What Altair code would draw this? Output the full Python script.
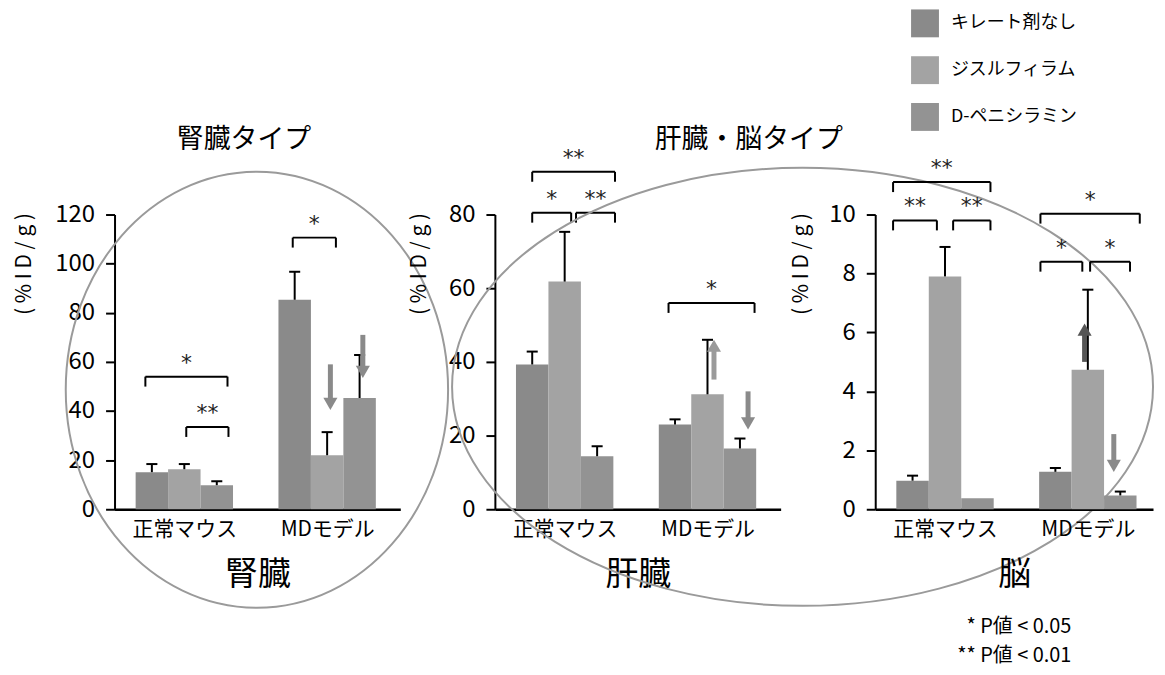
import altair as alt
import pandas as pd

FONT = "Noto Sans CJK JP"

# ---------------- data ----------------
groups = ["正常マウス", "MDモデル"]
series = ["キレート剤なし", "ジスルフィラム", "D-ペニシラミン"]
series_colors = ["#8a8a8a", "#a3a3a3", "#939393"]

organs = ["腎臓", "肝臓", "脳"]
type_titles = ["腎臓タイプ", "肝臓・脳タイプ"]
y_max = [120, 80, 10]
y_step = [20, 20, 2]
y_title = "( % I D / g )"

# mean / error  [group][series]
kidney_mean = [[15.1, 16.3, 9.8], [85.3, 22.0, 45.3]]
kidney_err = [[3.3, 2.1, 1.6], [11.4, 9.4, 17.5]]
liver_mean = [[39.3, 61.8, 14.4], [23.0, 31.2, 16.5]]
liver_err = [[3.5, 13.5, 2.7], [1.4, 14.8, 2.7]]
brain_mean = [[0.97, 7.9, 0.37], [1.27, 4.73, 0.47]]
brain_err = [[0.17, 1.0, 0.0], [0.13, 2.72, 0.13]]

# significance brackets: (group, from slot, to slot, level, label)
kidney_brackets = [(0, -0.2, 2.33, 54.0, "*"), (0, 1.06, 2.36, 33.5, "**"),
                   (1, -0.06, 1.27, 110.6, "*")]
liver_brackets = [(0, 0.0, 2.55, 91.6, "**"), (0, 0.0, 1.2, 80.5, "*"),
                  (0, 1.35, 2.55, 80.5, "**"), (1, -0.2, 2.45, 56.0, "*")]
brain_brackets = [(0, -0.6, 2.4, 11.1, "**"), (0, -0.6, 0.75, 9.8, "**"),
                  (0, 1.25, 2.4, 9.8, "**"), (1, -0.46, 2.6, 10.03, "*"),
                  (1, -0.46, 0.83, 8.4, "*"), (1, 1.07, 2.3, 8.4, "*")]

# change arrows: (group, slot, from value, to value, colour)
kidney_arrows = [(1, 1.1, 59.0, 40.5, "#8a8a8a"), (1, 2.1, 71.0, 53.5, "#8a8a8a")]
liver_arrows = [(1, 1.2, 35.2, 46.0, "#9a9a9a"), (1, 2.25, 32.0, 21.7, "#8a8a8a")]
brain_arrows = [(1, 0.9, 5.0, 6.3, "#555555"), (1, 1.8, 2.55, 1.27, "#8a8a8a")]

p_notes = ["* P値 < 0.05", "** P値 < 0.01"]

# ---------------- layout ----------------
PANEL_W = [287, 287, 279]
PANEL_H = 296
BAR_PX = 32.6
GROUP_CENTER = [2.15, 6.55]
Y_TITLE_X = [-90, -76, -74]


def ellipse_path(ratio):
    k = 0.5523
    r = ratio
    return (f"M 0 {-r} C {k} {-r} 1 {-k*r} 1 0 C 1 {k*r} {k} {r} 0 {r} "
            f"C {-k} {r} -1 {k*r} -1 0 C -1 {-k*r} {-k} {-r} 0 {-r} Z")


def build_panel(i, means, errs, brackets, arrows, legend=None, extra=None):
    W = PANEL_W[i]
    D = W / BAR_PX
    ppu = PANEL_H / y_max[i]
    xs = alt.Scale(domain=[0, D], nice=False, zero=False)
    ys = alt.Scale(domain=[0, y_max[i]], nice=False, zero=True)
    label_expr = f"datum.value < {sum(GROUP_CENTER)/2} ? '{groups[0]}' : '{groups[1]}'"
    xaxis = alt.Axis(values=GROUP_CENTER, labelExpr=label_expr, title=organs[i],
                     ticks=False, grid=False, domainColor="black", domainWidth=2.5,
                     labelFont=FONT, labelFontSize=21, labelColor="black",
                     labelPadding=9, titleFont=FONT, titleFontSize=33,
                     titleFontWeight="normal", titleColor="black", titlePadding=20)
    yaxis = alt.Axis(values=list(range(0, y_max[i] + 1, y_step[i])), title=y_title,
                     grid=False, domainColor="black", domainWidth=2,
                     tickColor="black", tickWidth=2, tickSize=9,
                     labelFont=FONT, labelFontSize=24, labelColor="black",
                     labelPadding=11, titleFont=FONT, titleFontSize=21,
                     titleFontWeight="normal", titleColor="black",
                     titleAngle=-90, titleAlign="right", titleBaseline="middle",
                     titleX=Y_TITLE_X[i], titleY=-2)

    def X(f):
        return alt.X(f, type="quantitative", scale=xs, axis=xaxis)

    def Y(f):
        return alt.Y(f, type="quantitative", scale=ys, axis=yaxis)

    rows = []
    for g in range(2):
        for s in range(3):
            c = GROUP_CENTER[g] + (s - 1)
            rows.append({"series": series[s], "group": groups[g],
                         "x0": c - 0.5, "x1": c + 0.5, "xc": c,
                         "cap0": c - 0.17, "cap1": c + 0.17,
                         "base": 0.0,
                         "value": means[g][s], "top": means[g][s] + errs[g][s],
                         "err": errs[g][s]})
    bdf = pd.DataFrame(rows)

    bars = alt.Chart(bdf).mark_bar().encode(
        x=X("x0"), x2="x1", y=Y("value"), y2="base",
        color=alt.Color("series:N", scale=alt.Scale(domain=series, range=series_colors),
                        legend=legend),
    )
    edf = bdf[bdf["err"] > 0]
    err_line = alt.Chart(edf).mark_rule(color="black", strokeWidth=2).encode(
        x=X("xc"), y=Y("value"), y2="top")
    err_cap = alt.Chart(edf).mark_rule(color="black", strokeWidth=2).encode(
        x=X("cap0"), x2="cap1", y=Y("top"))

    drop = 10 / ppu
    hrows, vrows = [], []
    for g, a, b, lvl, lab in brackets:
        x0 = GROUP_CENTER[g] - 1 + a
        x1 = GROUP_CENTER[g] - 1 + b
        hrows.append({"bx0": x0, "bx1": x1, "bxm": (x0 + x1) / 2, "lvl": lvl, "label": lab})
        vrows.append({"vx": x0, "vt": lvl, "vb": lvl - drop})
        vrows.append({"vx": x1, "vt": lvl, "vb": lvl - drop})
    hdf = pd.DataFrame(hrows)
    vdf = pd.DataFrame(vrows)
    br_h = alt.Chart(hdf).mark_rule(color="black", strokeWidth=2).encode(
        x=X("bx0"), x2="bx1", y=Y("lvl"))
    br_v = alt.Chart(vdf).mark_rule(color="black", strokeWidth=2).encode(
        x=X("vx"), y=Y("vt"), y2="vb")
    br_t = alt.Chart(hdf).mark_text(font="DejaVu Sans", fontSize=22, color="#222222",
                                    baseline="middle", dy=-14).encode(
        x=X("bxm"), y=Y("lvl"), text="label:N")

    arows = []
    head_px = 6
    for g, slot, frm, to, col in arrows:
        xa = GROUP_CENTER[g] - 1 + slot
        sgn = 1 if to > frm else -1
        hc = to - sgn * head_px / ppu
        arows.append({"ax": xa, "af": frm, "ab": hc, "ah": hc, "col": col,
                      "dir": "triangle-up" if sgn > 0 else "triangle-down"})
    adf = pd.DataFrame(arows)
    shaft = alt.Chart(adf).mark_rule(strokeWidth=5).encode(
        x=X("ax"), y=Y("af"), y2="ab", color=alt.Color("col:N", scale=None, legend=None))
    head = alt.Chart(adf).mark_point(filled=True, opacity=1, size=200).encode(
        x=X("ax"), y=Y("ah"), shape=alt.Shape("dir:N", scale=None, legend=None),
        fill=alt.Fill("col:N", scale=None, legend=None))

    layers = [bars, err_line, err_cap, br_h, br_v, br_t, shaft, head]
    if extra:
        layers += extra(X, Y, D, ppu)
    return alt.layer(*layers).properties(width=W, height=PANEL_H)


def type_title(X, Y, text, tx, ty):
    df = pd.DataFrame({"tx": [tx], "ty": [ty], "tt": [text]})
    return alt.Chart(df).mark_text(font=FONT, fontSize=27, color="black",
                                   baseline="middle").encode(
        x=X("tx"), y=Y("ty"), text="tt:N")


def kidney_extra(X, Y, D, ppu):
    df = pd.DataFrame({"ex": [(255 - 112) / BAR_PX], "ey": [(510 - 390) / ppu]})
    return [alt.Chart(df).mark_point(shape=ellipse_path(219 / 192), size=(2 * 192) ** 2,
                                     filled=False, stroke="#9a9a9a", strokeWidth=2,
                                     opacity=1).encode(x=X("ex"), y=Y("ey")),
            type_title(X, Y, type_titles[0], 3.99, 150.4)]


def liver_extra(X, Y, D, ppu):
    df = pd.DataFrame({"ex": [(803 - 494) / BAR_PX], "ey": [(510 - 387) / ppu]})
    return [alt.Chart(df).mark_point(shape=ellipse_path(220 / 352), size=(2 * 352) ** 2,
                                     filled=False, stroke="#9a9a9a", strokeWidth=2,
                                     opacity=1).encode(x=X("ex"), y=Y("ey")),
            type_title(X, Y, type_titles[1], 7.82, 100.3)]


def brain_extra(X, Y, D, ppu):
    df = pd.DataFrame({"nx": [(1073 - 876) / BAR_PX] * 2,
                       "ny": [(510 - 628) / ppu, (510 - 657) / ppu],
                       "note": p_notes})
    return [alt.Chart(df).mark_text(font=FONT, fontSize=20, color="black",
                                    align="right", baseline="middle").encode(
        x=X("nx"), y=Y("ny"), text="note:N")]


legend = alt.Legend(orient="none", legendX=36, legendY=-206, title=None,
                    symbolType="square", symbolSize=784, symbolStrokeWidth=0,
                    symbolOpacity=1, labelFont=FONT, labelFontSize=18,
                    labelColor="black", labelOffset=12, rowPadding=19, padding=0)

p1 = build_panel(0, kidney_mean, kidney_err, kidney_brackets, kidney_arrows,
                 extra=kidney_extra)
p2 = build_panel(1, liver_mean, liver_err, liver_brackets, liver_arrows,
                 extra=liver_extra)
p3 = build_panel(2, brain_mean, brain_err, brain_brackets, brain_arrows,
                 legend=legend, extra=brain_extra)

chart = alt.hconcat(p1, p2, p3, spacing=95, bounds="flush").resolve_scale(
    color="independent").configure_view(stroke=None).properties(
    padding={"left": 5, "top": 0, "right": 0, "bottom": 0}, background="white")

chart.save("out.html", embed_options={"renderer": "svg", "actions": False})
